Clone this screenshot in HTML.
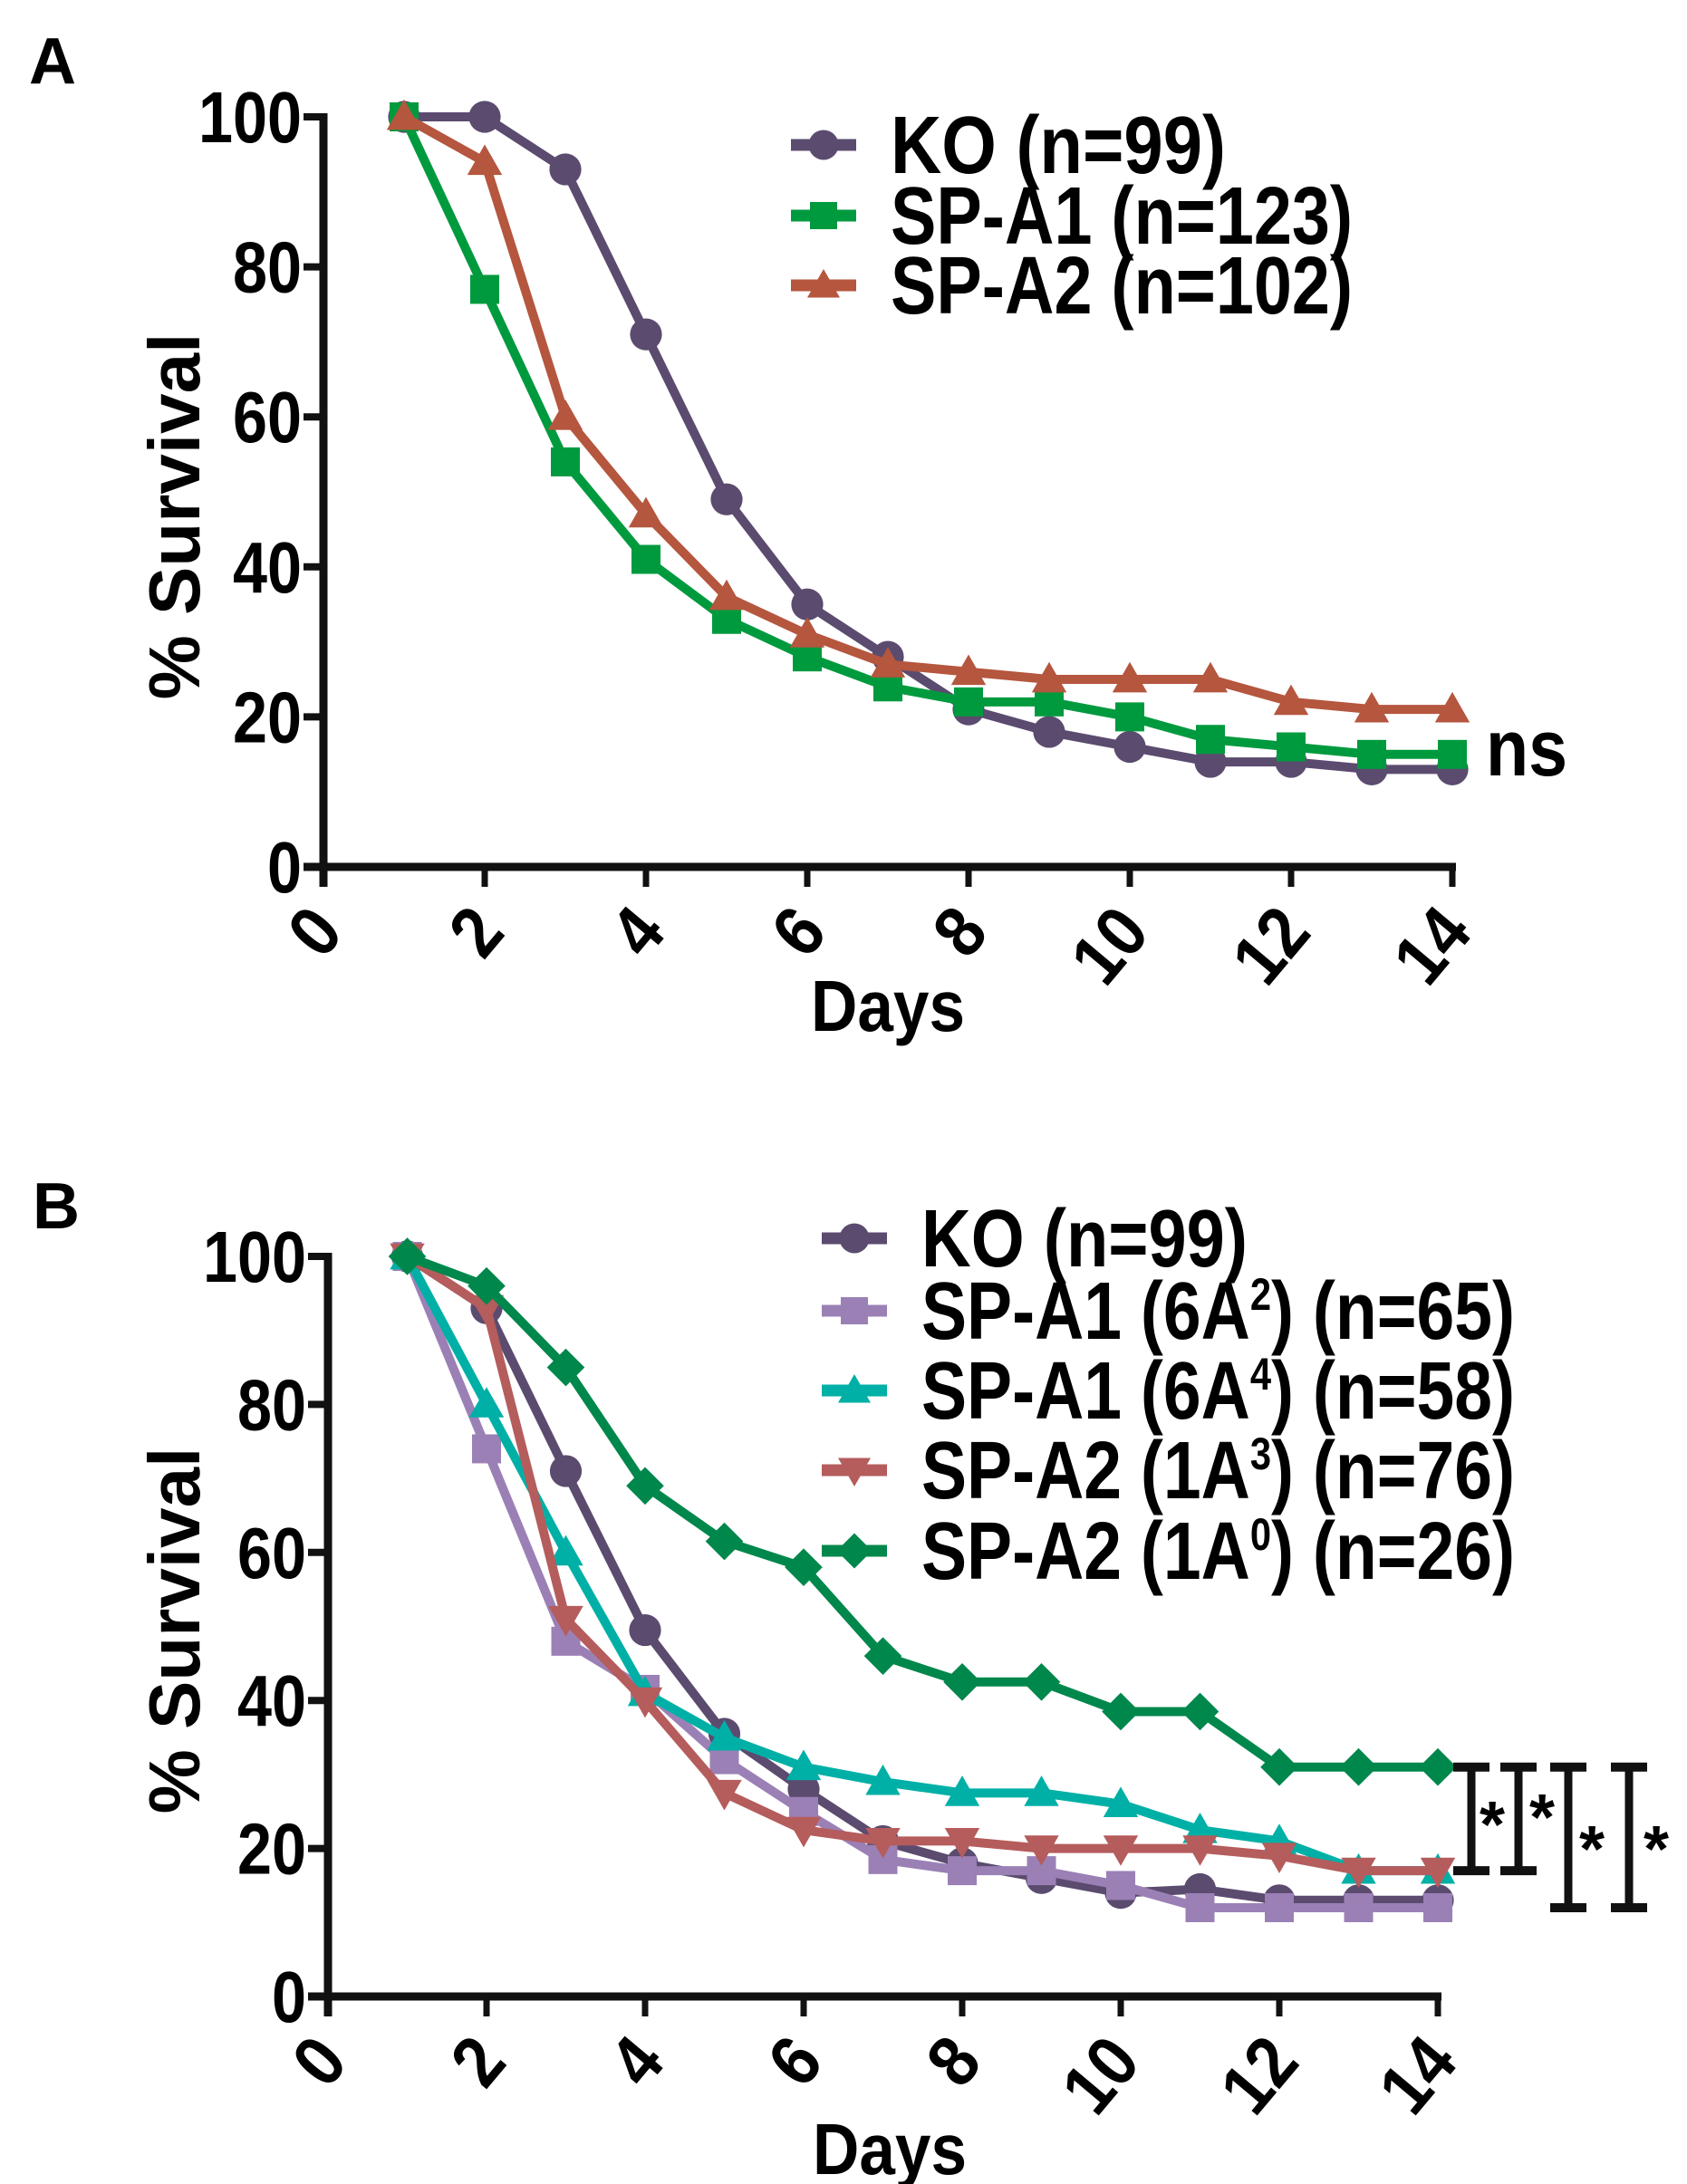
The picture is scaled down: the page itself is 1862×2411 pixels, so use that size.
<!DOCTYPE html>
<html><head><meta charset="utf-8"><style>
html,body{margin:0;padding:0;background:#fff;}
svg{display:block;font-family:"Liberation Sans",sans-serif;font-weight:bold;}
</style></head><body>
<svg id="fig" width="1862" height="2411" viewBox="0 0 1862 2411" xmlns="http://www.w3.org/2000/svg">
<text x="32" y="92" font-size="72">A</text>
<text x="36" y="1356" font-size="72">B</text>
<g id="chartA"></g>
<g id="chartB"></g>
</svg>
<script>
const days = [1,2,3,4,5,6,7,8,9,10,11,12,13,14];
const xTicks = [0,2,4,6,8,10,12,14];
const yTicks = [0,20,40,60,80,100];
// Panel A
const aKO = [100,100,93,71,49,35,28,21,18,16,14,14,13,13];
const aA1 = [100,77,54,41,33,28,24,22,22,20,17,16,15,15];
const aA2 = [100,94,60,47,36,31,27,26,25,25,25,22,21,21];
const aLabels = ["KO (n=99)","SP-A1 (n=123)","SP-A2 (n=102)"];
// Panel B
const bKO = [100,93,71,49.5,35.5,28,21,18,16,14,14.5,13,13,13];
const b6A2 = [100,74,48,41.5,32,25,18.5,17,17,15,12,12,12,12];
const b6A4 = [100,80,60,41,35,31,29,27.5,27.5,26,22.5,21,17,17];
const b1A3 = [100,93,51,40,27.5,22.5,21,21,20,20,20,19,17,17];
const b1A0 = [100,96,85,69,61.5,58,46,42.5,42.5,38.5,38.5,31,31,31];
const bLabels = [["KO (n=99)",""],["SP-A1 (6A","2",") (n=65)"],["SP-A1 (6A","4",") (n=58)"],["SP-A2 (1A","3",") (n=76)"],["SP-A2 (1A","0",") (n=26)"]];
// significance brackets (y values)
const sigTop = [31,31,31,31];
const sigBot = [17,17,12,12];

const NS="http://www.w3.org/2000/svg";
function mk(parent,tag,attrs){const e=document.createElementNS(NS,tag);for(const k in attrs)e.setAttribute(k,attrs[k]);parent.appendChild(e);return e;}

function marker(g,shape,cx,cy,color,s){
  let m;
  if(shape==="circle"){m=mk(g,"circle",{cx:cx,cy:cy,r:s*0.55,fill:color});}
  else if(shape==="square"){m=mk(g,"rect",{x:cx-s/2,y:cy-s/2,width:s,height:s,fill:color});}
  else if(shape==="tri"){m=mk(g,"polygon",{points:`${cx},${cy-s*0.6} ${cx+s*0.6},${cy+s*0.45} ${cx-s*0.6},${cy+s*0.45}`,fill:color});}
  else if(shape==="tridown"){m=mk(g,"polygon",{points:`${cx},${cy+s*0.6} ${cx+s*0.6},${cy-s*0.45} ${cx-s*0.6},${cy-s*0.45}`,fill:color});}
  else {m=mk(g,"polygon",{points:`${cx},${cy-s*0.65} ${cx+s*0.65},${cy} ${cx},${cy+s*0.65} ${cx-s*0.65},${cy}`,fill:color});}
  
  
}

function drawChart(g,cfg){
  const X=v=>cfg.x0+(cfg.x14-cfg.x0)*v/14;
  const Y=v=>cfg.y0-(cfg.y0-cfg.y100)*v/100;
  const ya=mk(g,"line",{x1:X(0),y1:Y(100)-4,x2:X(0),y2:Y(0)+22,stroke:"#111","stroke-width":9});
  
  const xa=mk(g,"line",{x1:X(0)-22,y1:Y(0),x2:X(14)+4,y2:Y(0),stroke:"#111","stroke-width":9});
  
  yTicks.forEach(t=>{
    const l=mk(g,"line",{x1:X(0)-22,y1:Y(t),x2:X(0),y2:Y(t),stroke:"#111","stroke-width":8});
    
    const s=String(t);
    const tx=mk(g,"text",{x:X(0)-24,y:Y(t)+28,"text-anchor":"end","font-size":80,textLength:s.length*38,lengthAdjust:"spacingAndGlyphs"});
    tx.textContent=s;
    
  });
  xTicks.forEach(t=>{
    const l=mk(g,"line",{x1:X(t),y1:Y(0),x2:X(t),y2:Y(0)+22,stroke:"#111","stroke-width":7});
    
    const s=String(t);
    const ax=X(t)+8, ay=Y(0)+60;
    const tx=mk(g,"text",{x:ax,y:ay,"text-anchor":"end","dominant-baseline":"middle","font-size":80,transform:`rotate(-50 ${ax} ${ay})`,textLength:s.length*40,lengthAdjust:"spacingAndGlyphs"});
    tx.textContent=s;
    
  });
  const xt=mk(g,"text",{x:cfg.daysX,y:cfg.daysY,"text-anchor":"middle","font-size":80,textLength:170,lengthAdjust:"spacingAndGlyphs"});
  xt.textContent="Days";
  const yt=mk(g,"text",{x:cfg.ytX,y:cfg.ytY,"text-anchor":"middle","font-size":80,transform:`rotate(-90 ${cfg.ytX} ${cfg.ytY})`});
  yt.textContent="% Survival";
  cfg.series.forEach((s,i)=>{
    const pts=days.map((d,j)=>X(d)+","+Y(s.vals[j])).join(" ");
    const pl=mk(g,"polyline",{points:pts,fill:"none",stroke:s.color,"stroke-width":10,"stroke-linejoin":"round"});
    
    days.forEach((d,j)=>marker(g,s.shape,X(d),Y(s.vals[j]),s.color,32));
    const ly=cfg.legY[i];
    const ll=mk(g,"line",{x1:cfg.legX,y1:ly,x2:cfg.legX+72,y2:ly,stroke:s.color,"stroke-width":13});
    
    marker(g,s.shape,cfg.legX+36,ly,s.color,30);
    const tx=mk(g,"text",{x:cfg.legX+110,y:ly+31,"font-size":90});
    const lab=s.label;
    if(typeof lab==="string"||lab[1]===""){
      tx.textContent=typeof lab==="string"?lab:lab[0];
    } else {
      tx.appendChild(document.createTextNode(lab[0]));
      const sup=mk(tx,"tspan",{dy:-32,"font-size":50});sup.textContent=lab[1];
      const rest=mk(tx,"tspan",{dy:32});rest.textContent=lab[2];
    }
    tx.setAttribute("textLength",cfg.legW[i]);tx.setAttribute("lengthAdjust","spacingAndGlyphs");
    
  });
  return {X,Y};
}

const gA=document.getElementById("chartA");
const rA=drawChart(gA,{x0:357,x14:1603,y0:957,y100:129,daysX:980,daysY:1138,ytX:220,ytY:570,
  legX:873,legY:[160,238,315],legW:[370,510,510],
  series:[{vals:aKO,color:"#5b4b6f",shape:"circle",label:aLabels[0]},
          {vals:aA1,color:"#009a3e",shape:"square",label:aLabels[1]},
          {vals:aA2,color:"#b5563e",shape:"tri",label:aLabels[2]}]});
const ns=mk(gA,"text",{x:1640,y:856,"font-size":88,textLength:90,lengthAdjust:"spacingAndGlyphs"});
ns.textContent="ns";

const gB=document.getElementById("chartB");
const rB=drawChart(gB,{x0:362,x14:1587,y0:2204,y100:1387,daysX:982,daysY:2400,ytX:220,ytY:1800,
  legX:907,legY:[1367,1447,1535,1623,1712],legW:[360,655,655,655,655],
  series:[{vals:bKO,color:"#5b4b6f",shape:"circle",label:bLabels[0]},
          {vals:b6A2,color:"#9b80b6",shape:"square",label:bLabels[1]},
          {vals:b6A4,color:"#00b0a6",shape:"tri",label:bLabels[2]},
          {vals:b1A3,color:"#b55c5c",shape:"tridown",label:bLabels[3]},
          {vals:b1A0,color:"#00874c",shape:"diamond",label:bLabels[4]}]});
const brX=[1624,1676,1731,1798];
const starPos=[[1647,2007],[1702,1999],[1757,2034],[1828,2034]];
sigTop.forEach((t,i)=>{
  const g=mk(gB,"g",{});
  
  
  const yt=rB.Y(t), yb=rB.Y(sigBot[i]);
  mk(g,"line",{x1:brX[i],y1:yt,x2:brX[i],y2:yb,stroke:"#111","stroke-width":9});
  mk(g,"line",{x1:brX[i]-20,y1:yt,x2:brX[i]+20,y2:yt,stroke:"#111","stroke-width":10});
  mk(g,"line",{x1:brX[i]-20,y1:yb,x2:brX[i]+20,y2:yb,stroke:"#111","stroke-width":10});
  const st=mk(g,"text",{x:starPos[i][0],y:starPos[i][1]+32,"text-anchor":"middle","font-size":72});
  st.textContent="*";
  
  
});
</script>
</body></html>
